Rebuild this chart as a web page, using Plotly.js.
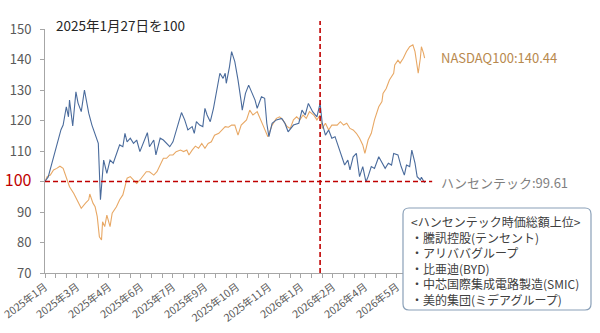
<!DOCTYPE html>
<html>
<head>
<meta charset="utf-8">
<script src="https://cdn.plot.ly/plotly-3.0.1.min.js"></script>
<style>
  html, body { margin: 0; padding: 0; background: #ffffff; }
  #chart { width: 600px; height: 333px; }
</style>
</head>
<body>
<div id="chart"></div>
<script>
// ---- data (x = trading days since 2025-01-27) ----
const hstDays = [0,3,6,9,12,15,17,20,22,23,26,29,31,34,37,41,44,47,50,52,55,58,61,64,67,70,73,75,77,80,83,86,89,92,96,98,102,104,108,111,114,117,120,124,128,131,134,138,140,142,145,148,150,152,155,158,161,164,167,169,170,173,175,178,181,183,184,185,188,191,194,197,199,203,206,208,210,213,217,222,225,228,233,238,241,244,247,251,255,258,260,263,266,269,272,275,278,281,284,286,289,292,295,298,301,303,306,309,313,316,319,322,325,327,331,334,337,339,342,344,347,349,352,353,355,356];
const hstValues = [100,101.5,105.4,109,112.6,117,118.5,124.5,121.2,126.7,118.2,129.4,125.7,122.9,130,122.4,118.5,115.2,112.5,94,107,102.7,107,106,109.3,112,111.4,115.8,113,114.2,112.5,113.6,109.8,112.5,116,111.4,113.6,108.7,114.2,113.6,112.5,111.4,113,118,122.6,120.2,116.9,118,115.8,119.6,118.5,118,124,121.8,119.6,124,130,135.5,133.8,135.5,132.2,137.6,142.6,139.3,133.3,129.4,126.2,123.4,128.9,131.6,128.9,126.7,124,127.8,127.3,119.1,114.7,119.1,120.2,120.7,119.1,116.3,118.5,119.1,123.4,121.8,125.6,122.9,121.2,125.6,119.1,115.2,116.9,114.2,114.7,111.4,108.7,105.4,107,103.8,108.1,109.2,101.6,104.9,99.9,101.6,104.9,104.3,108.1,106,104.3,106,105.4,109.2,108.7,104.9,102.1,105.4,104.9,110.3,106,101.6,100.5,101.4,99.9,99.61];

const ndxDays = [0,2,5,8,11,14,17,20,23,27,30,32,34,38,41,42,45,47,49,51,53,54,56,58,61,63,67,70,73,75,77,80,83,86,89,92,95,98,102,105,108,111,114,117,120,123,127,130,133,135,138,141,144,147,150,153,156,159,163,166,169,172,175,178,181,184,189,192,195,199,202,205,209,213,217,220,223,227,230,233,236,239,242,245,248,252,255,258,260,263,266,269,274,277,280,283,286,289,292,295,298,300,303,306,309,313,316,317,320,323,327,328,331,333,336,339,342,345,347,349,350,352,353,355,356];
const ndxValues = [100,101.6,102.1,103.8,104.3,105,104.3,101.6,98.3,96.1,94,92.3,91.2,92.9,94,95.9,92.9,91.7,88.5,81.9,80.8,86.8,85.2,89,85.2,89.6,91.7,94,95.6,98.3,101.1,101.6,100.5,99.4,100.5,101.8,103.2,103.2,102.1,103.2,105.4,107.6,107.6,108.7,108.7,109.8,110.3,109.8,110.3,108.7,110.3,111.6,110.9,112.5,110.9,112.5,113,115.2,115.8,116.9,118,117.8,118.5,118.5,115.2,118.5,120.2,123.4,121.8,122.9,120.2,118,114.7,118.5,120.7,121.2,120.2,118,117.4,120.2,121.2,120.2,121.8,120.7,122.9,121.8,120.2,121.8,117.4,119.1,116.9,118.5,118.5,119.6,118.5,119.1,117.4,116.9,115.8,114.2,112,109.2,113.6,115.8,120.2,124.5,126.2,128.9,130.5,133.3,135.5,138.2,139.8,138.8,140.4,142.6,144.2,144.8,142.6,137.6,135.5,140.4,144.2,142,140.44];

const tickDays = [0,30,60,90,120,150,180,210,240,270,300,330];
const tickLabels = ['2025年1月','2025年3月','2025年4月','2025年6月','2025年7月','2025年9月','2025年10月','2025年11月','2026年1月','2026年2月','2026年4月','2026年5月'];
const yTickVals = [70,80,90,100,110,120,130,140,150];
const yTickText = ['70','80','90','<span style="color:#c00000;font-size:16px">100</span>','110','120','130','140','150'];

const baseLevel = 100;
const markDay = 258;
const titleText = '2025年1月27日を100';
const ndxLabel = 'NASDAQ100:140.44';
const hstLabel = 'ハンセンテック:99.61';
const boxLines = ['<ハンセンテック時価総額上位>','・騰訊控股(テンセント)','・アリババグループ','・比亜迪(BYD)','・中芯国際集成電路製造(SMIC)','・美的集団(ミデアグループ)'];

// ---- layout helpers (pixel -> paper) ----
const W = 600, H = 333;
const L = 45, R = 431, T = 29, B = 273;
const px = p => (p - L) / (R - L);
const py = p => (B - p) / (B - T);
const FONT = '"Noto Sans CJK JP", "Noto Sans", sans-serif';

const esc = s => s.replace(/</g, '&lt;').replace(/>/g, '&gt;');

// rounded rect path in paper coords
function roundRect(x0, y0, x1, y1, r) {
  const X = p => px(p), Y = p => py(p);
  return `M ${X(x0 + r)} ${Y(y0)} L ${X(x1 - r)} ${Y(y0)} Q ${X(x1)} ${Y(y0)} ${X(x1)} ${Y(y0 + r)} ` +
         `L ${X(x1)} ${Y(y1 - r)} Q ${X(x1)} ${Y(y1)} ${X(x1 - r)} ${Y(y1)} ` +
         `L ${X(x0 + r)} ${Y(y1)} Q ${X(x0)} ${Y(y1)} ${X(x0)} ${Y(y1 - r)} ` +
         `L ${X(x0)} ${Y(y0 + r)} Q ${X(x0)} ${Y(y0)} ${X(x0 + r)} ${Y(y0)} Z`;
}

const traces = [
  { x: ndxDays, y: ndxValues, type: 'scatter', mode: 'lines',
    line: { color: '#e8a865', width: 1.1 }, hoverinfo: 'skip', showlegend: false },
  { x: hstDays, y: hstValues, type: 'scatter', mode: 'lines',
    line: { color: '#4a6b9c', width: 1.1 }, hoverinfo: 'skip', showlegend: false }
];

const layout = {
  width: W, height: H,
  margin: { l: L, r: W - R, t: T, b: H - B, pad: 0 },
  paper_bgcolor: '#ffffff', plot_bgcolor: '#ffffff',
  font: { family: FONT, color: '#595959', size: 12 },
  showlegend: false,
  xaxis: {
    range: [0, 362], showgrid: false, zeroline: false,
    showline: true, linecolor: '#a6a6a6', linewidth: 1,
    tickmode: 'array', tickvals: tickDays, ticktext: tickLabels,
    ticks: 'outside', ticklen: 4, tickcolor: '#a6a6a6',
    ticklabeloverflow: 'allow', ticklabelstandoff: -1,
    tickangle: -37, tickfont: { size: 10.5, color: '#595959', family: FONT },
    minor: { tickmode: 'linear', tick0: 0, dtick: 10, ticks: 'outside', ticklen: 4, tickcolor: '#a6a6a6', showgrid: false }
  },
  yaxis: {
    range: [70, 150], showgrid: false, zeroline: false,
    showline: true, linecolor: '#a6a6a6', linewidth: 1,
    tickmode: 'array', tickvals: yTickVals, ticktext: yTickText,
    ticks: 'outside', ticklen: 4, tickcolor: '#a6a6a6',
    ticklabelstandoff: 6,
    tickfont: { size: 13, color: '#595959', family: FONT }
  },
  shapes: [
    { type: 'line', xref: 'paper', yref: 'y', x0: 0, x1: 1.003, y0: baseLevel, y1: baseLevel,
      line: { color: '#c00000', width: 1.6, dash: '5px,3px' } },
    { type: 'line', xref: 'x', yref: 'paper', x0: markDay, x1: markDay, y0: 0, y1: py(21),
      line: { color: '#c00000', width: 1.6, dash: '5px,3px' } },
    { type: 'path', xref: 'paper', yref: 'paper', path: roundRect(403, 208, 591, 310, 6),
      line: { color: '#8aa0b8', width: 1.2 }, fillcolor: '#ffffff', layer: 'above' }
  ],
  annotations: [
    { xref: 'paper', yref: 'paper', x: px(54), y: py(25), xanchor: 'left', yanchor: 'middle',
      text: titleText, showarrow: false, font: { size: 13.5, color: '#262626', family: FONT } },
    { xref: 'paper', yref: 'paper', x: px(439), y: py(57), xanchor: 'left', yanchor: 'middle',
      text: ndxLabel, showarrow: false, font: { size: 13, color: '#b8894e', family: FONT } },
    { xref: 'paper', yref: 'paper', x: px(439), y: py(183), xanchor: 'left', yanchor: 'middle',
      text: hstLabel, showarrow: false, font: { size: 13, color: '#7f7f7f', family: FONT } },
    { xref: 'paper', yref: 'paper', x: px(409), y: py(211), xanchor: 'left', yanchor: 'top',
      align: 'left', text: boxLines.map(esc).join('<br>'), showarrow: false,
      font: { size: 12, color: '#404040', family: FONT } }
  ]
};

Plotly.newPlot('chart', traces, layout, { staticPlot: true, displayModeBar: false });
</script>
</body>
</html>
